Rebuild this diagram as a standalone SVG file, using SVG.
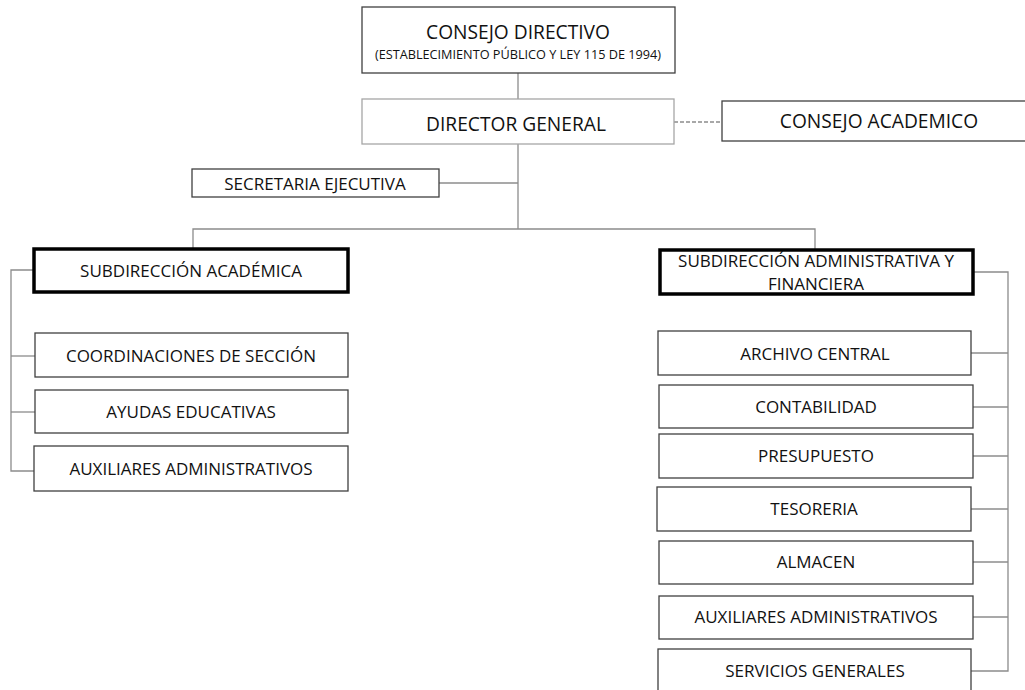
<svg xmlns="http://www.w3.org/2000/svg" width="1025" height="690" viewBox="0 0 1025 690">
<style>
.box{fill:#fff;stroke:#404040;stroke-width:1.3}
.light{fill:#fff;stroke:#a6a6a6;stroke-width:1.3}
.thick{fill:#fff;stroke:#000;stroke-width:3.5}
.t{font-family:"Open Sans","Liberation Sans",sans-serif;font-size:17px;fill:#111;text-anchor:middle}
.big{font-size:19.2px}
.small{font-size:12.7px}
.c{fill:none;stroke:#8c8c8c;stroke-width:1.3}
.d{fill:none;stroke:#8c8c8c;stroke-width:1.3;stroke-dasharray:4 2}
</style>
<rect width="1025" height="690" fill="#fff"/>
<g id="connectors">
<line class="c" x1="518" y1="73" x2="518" y2="99"/>
<line class="d" x1="674" y1="122" x2="722" y2="122"/>
<line class="c" x1="518" y1="144" x2="518" y2="229"/>
<line class="c" x1="439" y1="183" x2="518" y2="183"/>
<polyline class="c" points="193,249 193,229 815,229 815,249"/>
<polyline class="c" points="33,270 11,270 11,471 34,471"/>
<line class="c" x1="11" y1="356" x2="35" y2="356"/>
<line class="c" x1="11" y1="412" x2="35" y2="412"/>
<polyline class="c" points="973,272 1008,272 1008,671 971,671"/>
<line class="c" x1="971" y1="353" x2="1008" y2="353"/>
<line class="c" x1="973" y1="407" x2="1008" y2="407"/>
<line class="c" x1="973" y1="456" x2="1008" y2="456"/>
<line class="c" x1="971" y1="509" x2="1008" y2="509"/>
<line class="c" x1="973" y1="562" x2="1008" y2="562"/>
<line class="c" x1="973" y1="617" x2="1008" y2="617"/>
</g>
<g id="consejo-directivo">
<rect class="box" x="362" y="7" width="313" height="66"/>
<text class="t big" x="518" y="39">CONSEJO DIRECTIVO</text>
<text class="t small" x="518" y="59">(ESTABLECIMIENTO PÚBLICO Y LEY 115 DE 1994)</text>
</g>
<g id="director-general">
<rect class="light" x="362" y="99" width="312" height="45"/>
<text class="t big" x="516" y="131">DIRECTOR GENERAL</text>
</g>
<g id="consejo-academico">
<rect class="box" x="722" y="101" width="310" height="40"/>
<text class="t big" x="879" y="128">CONSEJO ACADEMICO</text>
</g>
<g id="secretaria-ejecutiva">
<rect class="box" x="192" y="169" width="247" height="28"/>
<text class="t" x="315" y="190">SECRETARIA EJECUTIVA</text>
</g>
<g id="subdireccion-academica">
<rect class="thick" x="34" y="249" width="314" height="43"/>
<text class="t" x="191" y="277">SUBDIRECCIÓN ACADÉMICA</text>
</g>
<g id="coordinaciones">
<rect class="box" x="35" y="333" width="313" height="44"/>
<text class="t" x="191" y="362">COORDINACIONES DE SECCIÓN</text>
</g>
<g id="ayudas">
<rect class="box" x="35" y="390" width="313" height="43"/>
<text class="t" x="191" y="418">AYUDAS EDUCATIVAS</text>
</g>
<g id="auxiliares-acad">
<rect class="box" x="34" y="446" width="314" height="45"/>
<text class="t" x="191" y="475">AUXILIARES ADMINISTRATIVOS</text>
</g>
<g id="subdireccion-administrativa">
<rect class="thick" x="660" y="250" width="313" height="44"/>
<text class="t" x="816" y="267">SUBDIRECCIÓN ADMINISTRATIVA Y</text>
<text class="t" x="816" y="290">FINANCIERA</text>
</g>
<g id="archivo">
<rect class="box" x="658" y="331" width="313" height="44"/>
<text class="t" x="815" y="360">ARCHIVO CENTRAL</text>
</g>
<g id="contabilidad">
<rect class="box" x="659" y="385" width="314" height="43"/>
<text class="t" x="816" y="413">CONTABILIDAD</text>
</g>
<g id="presupuesto">
<rect class="box" x="659" y="434" width="314" height="44"/>
<text class="t" x="816" y="462">PRESUPUESTO</text>
</g>
<g id="tesoreria">
<rect class="box" x="657" y="487" width="314" height="44"/>
<text class="t" x="814" y="515">TESORERIA</text>
</g>
<g id="almacen">
<rect class="box" x="659" y="541" width="314" height="43"/>
<text class="t" x="816" y="568">ALMACEN</text>
</g>
<g id="auxiliares-adm">
<rect class="box" x="659" y="596" width="314" height="43"/>
<text class="t" x="816" y="623">AUXILIARES ADMINISTRATIVOS</text>
</g>
<g id="servicios">
<rect class="box" x="658" y="649" width="313" height="50"/>
<text class="t" x="815" y="677">SERVICIOS GENERALES</text>
</g>
</svg>
